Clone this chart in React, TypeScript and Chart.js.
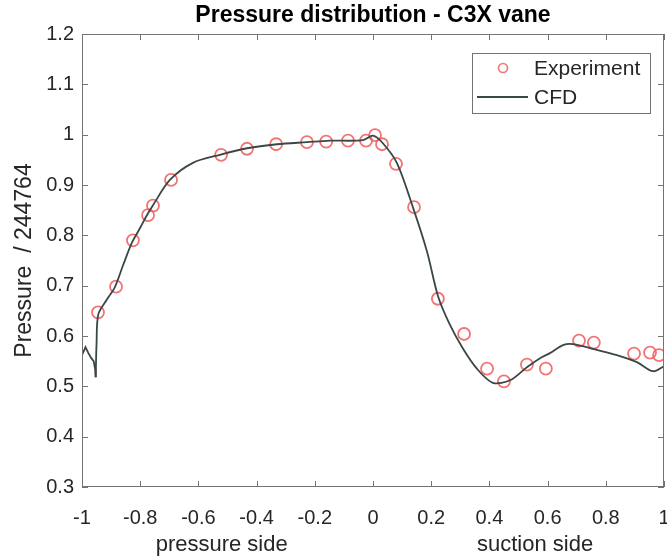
import React, { useEffect, useRef } from "react";
import { Chart, registerables } from "chart.js";

Chart.register(...registerables);

// ---------- data ----------
const expX = [-0.945, -0.883, -0.825, -0.773, -0.756, -0.694, -0.522, -0.433, -0.333, -0.227, -0.161, -0.086, -0.024, 0.007, 0.031, 0.079, 0.141, 0.223, 0.313, 0.392, 0.45, 0.529, 0.594, 0.708, 0.759, 0.897, 0.952, 0.983];
const expY = [0.647, 0.698, 0.79, 0.84, 0.859, 0.91, 0.96, 0.972, 0.981, 0.985, 0.986, 0.988, 0.988, 0.999, 0.981, 0.942, 0.856, 0.674, 0.604, 0.535, 0.51, 0.543, 0.535, 0.591, 0.587, 0.565, 0.567, 0.562];

// CFD: short stub near the leading edge (x = -1)
const cfdTipX = [-1.0, -0.988, -0.978, -0.968, -0.96, -0.955, -0.953];
const cfdTipY = [0.562, 0.578, 0.566, 0.556, 0.55, 0.535, 0.518];

// CFD: main curve
const cfdX = [-0.953, -0.95, -0.944, -0.915, -0.887, -0.858, -0.828, -0.8, -0.777, -0.756, -0.698, -0.619, -0.526, -0.433, -0.33, -0.227, -0.148, -0.034, 0.0, 0.034, 0.082, 0.137, 0.186, 0.223, 0.262, 0.309, 0.357, 0.412, 0.471, 0.529, 0.574, 0.608, 0.653, 0.687, 0.746, 0.838, 0.907, 0.962, 1.0];
const cfdY = [0.518, 0.585, 0.643, 0.672, 0.697, 0.742, 0.786, 0.815, 0.84, 0.86, 0.91, 0.944, 0.96, 0.973, 0.981, 0.985, 0.988, 0.989, 0.998, 0.983, 0.944, 0.856, 0.767, 0.68, 0.625, 0.575, 0.535, 0.507, 0.512, 0.538, 0.556, 0.566, 0.582, 0.584, 0.576, 0.562, 0.548, 0.53, 0.54];

const xTicks = [-1, -0.8, -0.6, -0.4, -0.2, 0, 0.2, 0.4, 0.6, 0.8, 1];
const yTicks = [0.3, 0.4, 0.5, 0.6, 0.7, 0.8, 0.9, 1, 1.1, 1.2];

const titleText = "Pressure distribution - C3X vane";
const yAxisLabel = "Pressure  / 244764";
const sideLabels = ["pressure side", "suction side"];
const sideLabelX = [-0.52, 0.557];
const legendLabels = ["Experiment", "CFD"];

const FONT = "'Liberation Sans', Arial, Helvetica, sans-serif";
const TEXT = "#262626";
const AXIS = "#737373";
const RED = "rgba(242, 100, 100, 0.9)";
const LINE = "#3b4646";

const fmt = (v: number) => String(Number(v.toFixed(2)));

const decor = {
  id: "decor",
  afterDatasetsDraw(chart: any) {
    const { ctx, chartArea: a, scales } = chart;
    const xs = scales.x;
    const ys = scales.y;
    ctx.save();
    // axes box
    ctx.strokeStyle = AXIS;
    ctx.lineWidth = 1;
    ctx.strokeRect(a.left + 0.5, a.top + 0.5, a.right - a.left - 1, a.bottom - a.top - 1);
    // inward ticks on all four sides
    const tl = 6;
    ctx.beginPath();
    for (const v of xTicks) {
      const px = Math.round(xs.getPixelForValue(v)) + 0.5;
      ctx.moveTo(px, a.bottom);
      ctx.lineTo(px, a.bottom - tl);
      ctx.moveTo(px, a.top);
      ctx.lineTo(px, a.top + tl);
    }
    for (const v of yTicks) {
      const py = Math.round(ys.getPixelForValue(v)) + 0.5;
      ctx.moveTo(a.left, py);
      ctx.lineTo(a.left + tl, py);
      ctx.moveTo(a.right, py);
      ctx.lineTo(a.right - tl, py);
    }
    ctx.stroke();

    // x tick labels
    ctx.fillStyle = TEXT;
    ctx.font = `20px ${FONT}`;
    ctx.textAlign = "center";
    ctx.textBaseline = "middle";
    for (const v of xTicks) {
      ctx.fillText(fmt(v), xs.getPixelForValue(v), a.bottom + 31);
    }

    // legend
    const w = 178;
    const h = 60;
    const lx = a.right - 14 - w;
    const ly = a.top + 19;
    ctx.fillStyle = "#ffffff";
    ctx.fillRect(lx, ly, w, h);
    ctx.strokeStyle = AXIS;
    ctx.strokeRect(lx + 0.5, ly + 0.5, w, h);
    ctx.font = `21px ${FONT}`;
    ctx.textBaseline = "middle";
    ctx.textAlign = "left";
    ctx.fillStyle = TEXT;
    ctx.beginPath();
    ctx.strokeStyle = RED;
    ctx.lineWidth = 1.6;
    ctx.arc(lx + 31, ly + 15, 4.5, 0, Math.PI * 2);
    ctx.stroke();
    ctx.fillText(legendLabels[0], lx + 62, ly + 16);
    ctx.beginPath();
    ctx.strokeStyle = LINE;
    ctx.lineWidth = 1.8;
    ctx.moveTo(lx + 5, ly + 44);
    ctx.lineTo(lx + 56, ly + 44);
    ctx.stroke();
    ctx.fillText(legendLabels[1], lx + 62, ly + 45);
    ctx.restore();
  },
  afterDraw(chart: any) {
    const { ctx, chartArea: a, scales } = chart;
    ctx.save();
    ctx.fillStyle = "#000";
    ctx.textAlign = "center";
    ctx.textBaseline = "middle";
    ctx.font = `bold 23px ${FONT}`;
    ctx.fillText(titleText, (a.left + a.right) / 2, 16);
    ctx.fillStyle = TEXT;
    ctx.font = `22px ${FONT}`;
    for (let i = 0; i < sideLabels.length; i++) {
      ctx.fillText(sideLabels[i], scales.x.getPixelForValue(sideLabelX[i]), 545);
    }
    ctx.font = `23px ${FONT}`;
    ctx.translate(25, (a.top + a.bottom) / 2);
    ctx.rotate(-Math.PI / 2);
    ctx.fillText(yAxisLabel, 0, 0);
    ctx.restore();
  },
};

export default function App() {
  const ref = useRef<HTMLCanvasElement | null>(null);
  useEffect(() => {
    document.body.style.margin = "0";
    const canvas = ref.current;
    if (!canvas) return;
    const chart = new Chart(canvas, {
      type: "scatter",
      data: {
        datasets: [
          {
            label: "CFD",
            data: cfdX.map((x, i) => ({ x, y: cfdY[i] })),
            showLine: true,
            pointRadius: 0,
            borderColor: LINE,
            borderWidth: 1.8,
            tension: 0.3,
            order: 0,
          },
          {
            label: "CFD tip",
            data: cfdTipX.map((x, i) => ({ x, y: cfdTipY[i] })),
            showLine: true,
            pointRadius: 0,
            borderColor: LINE,
            borderWidth: 1.8,
            tension: 0,
            order: 0,
          },
          {
            label: "Experiment",
            data: expX.map((x, i) => ({ x, y: expY[i] })),
            showLine: false,
            pointStyle: "circle",
            pointRadius: 6,
            pointBorderWidth: 1.8,
            pointBorderColor: RED,
            pointBackgroundColor: "rgba(0,0,0,0)",
            order: 1,
          },
        ],
      },
      options: {
        responsive: false,
        animation: false,
        layout: { autoPadding: false, padding: { left: 0, top: 34, right: 3, bottom: 0 } },
        plugins: {
          legend: { display: false },
          tooltip: { enabled: false },
          title: { display: false },
        },
        scales: {
          x: {
            type: "linear",
            min: -1,
            max: 1,
            grid: { display: false, drawTicks: false },
            border: { display: false },
            afterBuildTicks: (s: any) => {
              s.ticks = xTicks.map((v) => ({ value: v }));
            },
            afterFit: (s: any) => {
              s.height = 70;
            },
            ticks: { display: false },
          },
          y: {
            type: "linear",
            min: 0.3,
            max: 1.2,
            grid: { display: false, drawTicks: false },
            border: { display: false },
            afterBuildTicks: (s: any) => {
              s.ticks = yTicks.map((v) => ({ value: v }));
            },
            afterFit: (s: any) => {
              s.width = 82;
              s.paddingTop = 0;
              s.paddingBottom = 0;
            },
            ticks: {
              autoSkip: false,
              padding: 8,
              color: TEXT,
              font: { family: FONT, size: 20 },
              callback: (v: any) => fmt(Number(v)),
            },
          },
        },
      },
      plugins: [decor],
    } as any);
    return () => chart.destroy();
  }, []);
  return (
    <div style={{ width: 667, height: 557, background: "#fff" }}>
      <canvas ref={ref} width={667} height={557} style={{ display: "block" }} />
    </div>
  );
}
